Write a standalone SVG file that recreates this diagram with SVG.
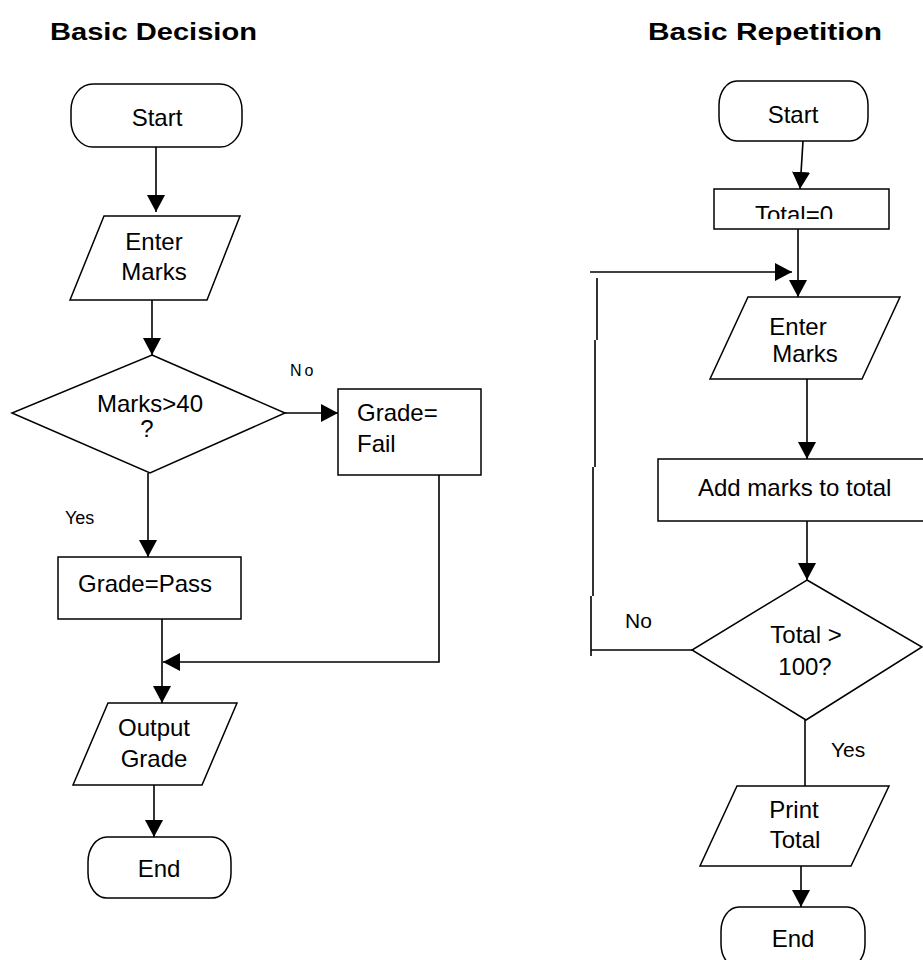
<svg xmlns="http://www.w3.org/2000/svg" width="923" height="960" viewBox="0 0 923 960">
  <style>
    .shape { fill: #ffffff; stroke: #000000; stroke-width: 1.5; }
    .wire { fill: none; stroke: #000000; stroke-width: 1.6; }
    .lbl { font-family: "Liberation Sans", Arial, sans-serif; font-size: 24px; fill: #000000; }
    .mid { text-anchor: middle; }
    .small { font-family: "Liberation Sans", Arial, sans-serif; fill: #000000; }
    .title { font-family: "Liberation Sans", Arial, sans-serif; font-size: 24px; font-weight: bold; fill: #000000; }
  </style>
  <defs>
    <marker id="head" viewBox="0 0 17 18" refX="17" refY="9" markerWidth="17" markerHeight="18" markerUnits="userSpaceOnUse" orient="auto">
      <path d="M0,0 L17,9 L0,18 Z" fill="#000000"/>
    </marker>
    <clipPath id="totalClip">
      <rect x="714" y="190" width="175" height="29"/>
    </clipPath>
  </defs>

  <rect width="923" height="960" fill="#ffffff"/>

  <!-- headings -->
  <text class="title" x="50" y="40" textLength="207" lengthAdjust="spacingAndGlyphs">Basic Decision</text>
  <text class="title" x="648" y="40" textLength="234" lengthAdjust="spacingAndGlyphs">Basic Repetition</text>

  <!-- ===== decision flowchart ===== -->
  <g id="d-start">
    <rect class="shape" x="71" y="84" width="171" height="63" rx="22" ry="26"/>
    <text class="lbl mid" x="157" y="126">Start</text>
  </g>
  <g id="d-enter">
    <polygon class="shape" points="104,216 240,216 207,300 70,300"/>
    <text class="lbl mid" x="154" y="250">Enter</text>
    <text class="lbl mid" x="154" y="280">Marks</text>
  </g>
  <g id="d-check">
    <polygon class="shape" points="152,355 285,413 150,473 12,413"/>
    <text class="lbl mid" x="150" y="412">Marks&gt;40</text>
    <text class="lbl mid" x="147" y="437">?</text>
  </g>
  <g id="d-fail">
    <rect class="shape" x="338" y="389" width="143" height="86"/>
    <text class="lbl" x="357" y="421">Grade=</text>
    <text class="lbl" x="357" y="452">Fail</text>
  </g>
  <g id="d-pass">
    <rect class="shape" x="58" y="557" width="183" height="62"/>
    <text class="lbl" x="78" y="592">Grade=Pass</text>
  </g>
  <g id="d-output">
    <polygon class="shape" points="108,703 237,703 202,785 73,785"/>
    <text class="lbl mid" x="154" y="736">Output</text>
    <text class="lbl mid" x="154" y="767">Grade</text>
  </g>
  <g id="d-end">
    <rect class="shape" x="88" y="837" width="143" height="61" rx="19" ry="25"/>
    <text class="lbl mid" x="159" y="877">End</text>
  </g>

  <!-- ===== repetition flowchart ===== -->
  <g id="r-start">
    <rect class="shape" x="719" y="81" width="149" height="60" rx="18" ry="24"/>
    <text class="lbl mid" x="793" y="123">Start</text>
  </g>
  <g id="r-init">
    <rect class="shape" x="714" y="189" width="175" height="40"/>
    <text class="lbl mid" x="794" y="223" font-size="22" clip-path="url(#totalClip)">Total=0</text>
  </g>
  <g id="r-enter">
    <polygon class="shape" points="748,297 900,297 862,379 710,379"/>
    <text class="lbl mid" x="798" y="335" font-size="23">Enter</text>
    <text class="lbl mid" x="805" y="362" font-size="23">Marks</text>
  </g>
  <g id="r-add">
    <rect class="shape" x="658" y="459" width="272" height="62"/>
    <text class="lbl" x="698" y="496">Add marks to total</text>
  </g>
  <g id="r-check">
    <polygon class="shape" points="807,580 922,647 806,720 692,650"/>
    <text class="lbl mid" x="806" y="643">Total &gt;</text>
    <text class="lbl mid" x="805" y="675">100?</text>
  </g>
  <g id="r-print">
    <polygon class="shape" points="737,786 889,786 851,866 700,866"/>
    <text class="lbl mid" x="794" y="818">Print</text>
    <text class="lbl mid" x="795" y="848">Total</text>
  </g>
  <g id="r-end">
    <rect class="shape" x="721" y="907" width="144" height="61" rx="18" ry="24"/>
    <text class="lbl mid" x="793" y="947">End</text>
  </g>

  <!-- ===== connectors ===== -->
  <g id="connectors">
    <!-- decision -->
    <line class="wire" x1="156" y1="147" x2="156" y2="212" marker-end="url(#head)"/>
    <line class="wire" x1="152" y1="300" x2="152" y2="355" marker-end="url(#head)"/>
    <line class="wire" x1="285" y1="413" x2="338" y2="413" marker-end="url(#head)"/>
    <line class="wire" x1="148" y1="473" x2="148" y2="557" marker-end="url(#head)"/>
    <line class="wire" x1="162" y1="619" x2="162" y2="703" marker-end="url(#head)"/>
    <polyline class="wire" points="439,475 439,662 163,662" marker-end="url(#head)"/>
    <line class="wire" x1="154" y1="785" x2="154" y2="837" marker-end="url(#head)"/>

    <!-- repetition -->
    <line class="wire" x1="803" y1="141" x2="800" y2="189" marker-end="url(#head)"/>
    <line class="wire" x1="798" y1="229" x2="798" y2="297" marker-end="url(#head)"/>
    <line class="wire" x1="807" y1="379" x2="807" y2="459" marker-end="url(#head)"/>
    <line class="wire" x1="807" y1="521" x2="807" y2="580" marker-end="url(#head)"/>
    <line class="wire" x1="805" y1="720" x2="805" y2="786"/>
    <line class="wire" x1="801" y1="866" x2="801" y2="907" marker-end="url(#head)"/>
    <!-- loop back from the No branch -->
    <line class="wire" x1="692" y1="650" x2="591" y2="650"/>
    <path class="wire" d="M597,278 V340 M595,340 V467 M593,467 V596 M591,596 V656"/>
    <line class="wire" x1="590" y1="272" x2="792" y2="272" marker-end="url(#head)"/>
  </g>

  <!-- branch labels -->
  <g id="labels">
    <text class="small" x="290" y="376" font-size="16" letter-spacing="3">No</text>
    <text class="small" x="65" y="524" font-size="18">Yes</text>
    <text class="small" x="625" y="628" font-size="21">No</text>
    <text class="small" x="831" y="757" font-size="21">Yes</text>
  </g>
</svg>
